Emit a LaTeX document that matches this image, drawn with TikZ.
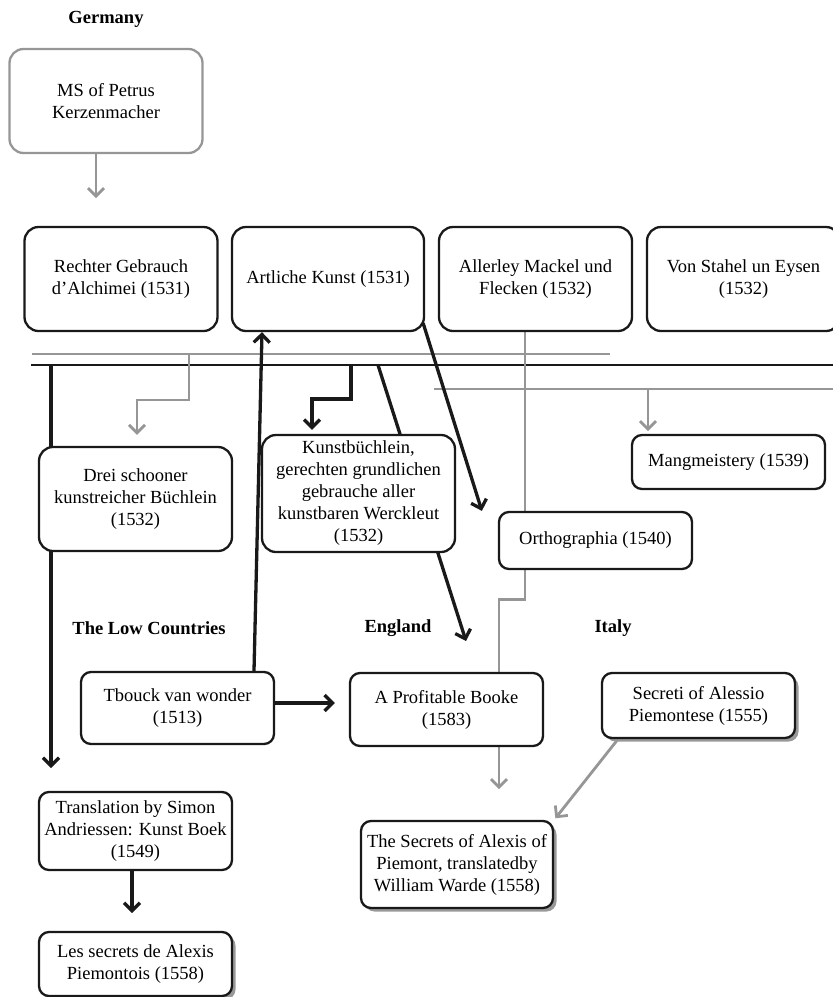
\documentclass[tikz,border=0pt]{standalone}
\usepackage{fontspec}
\setmainfont{Liberation Serif}
\usetikzlibrary{arrows.meta,shadows,backgrounds}
\definecolor{linegray}{RGB}{150,150,150}

\begin{document}
\begin{tikzpicture}[x=1pt,y=-1pt,
    book/.style={draw=black!90,line width=2.3pt,fill=white,rounded corners=14pt,align=center,
      minimum width=193pt,inner sep=2pt,font=\fontsize{18.5}{22}\selectfont},
    small/.style={book,rounded corners=10pt},
    shade/.style={drop shadow={shadow xshift=3.5pt,shadow yshift=-3.5pt,fill=black!40,opacity=1}},
    country/.style={font=\fontsize{18.5}{22}\selectfont\bfseries},
    dark/.style={line width=3.3pt,black!90},
    light/.style={line width=2.8pt,linegray},
    tip/.style={-{Straight Barb[length=8pt,width=16pt]}}]
\useasboundingbox (0,0) rectangle (833,997);

\node[country] (germany) at (106,19) {Germany};
\node[country] (lowc) at (149,628) {The Low Countries};
\node[country] (england) at (398,628) {England};
\node[country] (italy) at (613,628) {Italy};

\node[book,draw=linegray,minimum height=104pt] (ms) at (106,101) {MS of Petrus\\Kerzenmacher};
\node[book,minimum height=104pt] (rechter) at (121,279) {Rechter Gebrauch\\d'Alchimei (1531)};
\node[book,minimum width=192pt,minimum height=104pt] (artliche) at (328,279) {Artliche Kunst (1531)};
\node[book,minimum height=104pt] (allerley) at (535.5,279) {Allerley Mackel und\\Flecken (1532)};
\node[book,minimum height=104pt] (stahel) at (743.5,279) {Von Stahel un Eysen\\(1532)};
\node[book,minimum height=104pt] (drei) at (135.5,499) {Drei schooner\\kunstreicher Büchlein\\(1532)};
\node[book,minimum height=117pt,inner sep=1pt] (kunst) at (358.5,493.5) {Kunstbüchlein,\\gerechten grundlichen\\gebrauche aller\\kunstbaren Werckleut\\(1532)};
\node[small,minimum height=54pt] (mang) at (728.5,462) {Mangmeistery (1539)};
\node[small,minimum height=57pt] (ortho) at (595.5,540.5) {Orthographia (1540)};
\node[small,minimum height=72pt] (tbouck) at (177.5,708) {Tbouck van wonder\\(1513)};
\node[small,minimum height=73pt] (profit) at (446.5,709.5) {A Profitable Booke\\(1583)};
\node[small,shade,minimum height=65pt] (secreti) at (698.5,705.5) {Secreti of Alessio\\Piemontese (1555)};
\node[small,shade,minimum width=192pt,minimum height=87pt] (secrets) at (457,864.5) {The Secrets of Alexis of\\Piemont, translatedby\\William Warde (1558)};
\node[small,minimum height=78pt] (transl) at (135.5,831) {Translation by Simon\\Andriessen: Kunst Boek\\(1549)};
\node[small,shade,minimum height=64pt] (lessec) at (135.5,964) {Les secrets de Alexis\\Piemontois (1558)};

\coordinate (g1w) at (32,354);
\coordinate (g1e) at (610,354);
\coordinate (bw) at (31,365);
\coordinate (be) at (833,365);
\coordinate (g2w) at (434,389);
\coordinate (g2e) at (833,389);
\coordinate (tolow) at (51,365);
\coordinate (lowend) at (51,768);
\coordinate (todrei) at (189,354);
\coordinate (tokunst) at (351,365);
\coordinate (toeng) at (378,365);
\coordinate (engend) at (466,641);
\coordinate (tomang) at (648,389);

\begin{scope}[on background layer]
\draw[light,line width=2.2pt] (g1w) -- (g1e);
\draw[dark,line width=2.4pt] (bw) -- (be);
\draw[light,line width=2.2pt] (g2w) -- (g2e);
\draw[light,tip] ([xshift=-10pt]ms.south) -- ++(0,44);
\draw[dark,tip] (tolow) -- (lowend);
\draw[light,tip,shorten >=11pt] (todrei) -- ++(0,46) -| ([xshift=1.5pt]drei.north);
\draw[dark,tip,shorten >=4pt] (tokunst) -- ++(0,34) -| ([xshift=-46.5pt]kunst.north);
\draw[dark,tip] (toeng) -- (engend);
\draw[dark,tip] ([xshift=-2pt,yshift=9pt]artliche.south east) -- ([xshift=-16pt]ortho.north west);
\draw[light] ([xshift=-10.5pt]allerley.south) -- ++(0,267) -| ([xshift=52.5pt]profit.north);
\draw[light,tip] (tomang) -- ++(0,42);
\draw[dark,tip] ([xshift=76.5pt]tbouck.north) -- ([xshift=-66pt]artliche.south);
\draw[dark,tip,shorten >=14pt] ([yshift=5pt]tbouck.east) -- ([yshift=6.5pt]profit.west);
\draw[light,tip] ([xshift=52.5pt]profit.south) -- ++(0,42);
\draw[light,tip,shorten >=2pt] ([xshift=-80.5pt]secreti.south) -- (secrets.north east);
\draw[dark,tip] ([xshift=-3.5pt]transl.south) -- ++(0,42);
\end{scope}
\end{tikzpicture}
\end{document}
